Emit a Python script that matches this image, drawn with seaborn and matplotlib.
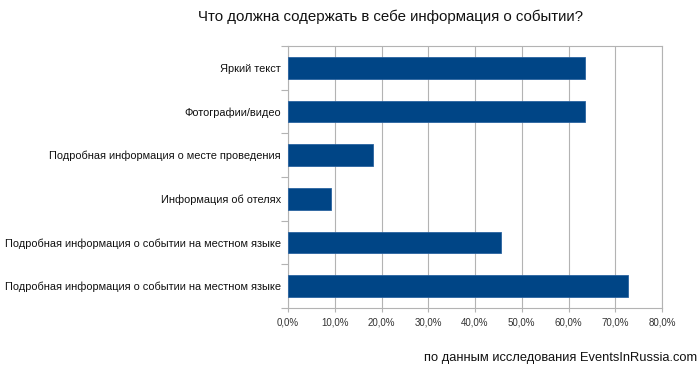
import matplotlib
matplotlib.use("Agg")
import matplotlib.pyplot as plt
import seaborn as sns
import pandas as pd
import numpy as np
from matplotlib.ticker import FuncFormatter, FixedLocator

categories = [
    "Яркий текст",
    "Фотографии/видео",
    "Подробная информация о месте проведения",
    "Информация об отелях",
    "Подробная информация о событии на местном языке",
    "Подробная информация о событии на местном языке",
]
shares = [63.6, 63.6, 18.2, 9.1, 45.5, 72.7]
xticks = [0, 10, 20, 30, 40, 50, 60, 70, 80]

# two categories share the same label, so plot on a row index and relabel
df = pd.DataFrame({"row": [str(i) for i in range(len(categories))], "share": shares})

sns.set_style("white")
plt.rcParams["font.family"] = ["Liberation Sans", "DejaVu Sans"]

fig = plt.figure(figsize=(7, 3.78), dpi=100)
ax = fig.add_axes([288 / 700, 1 - 308 / 378, 374 / 700, 262 / 378])

sns.barplot(data=df, x="share", y="row", orient="h", color="#004586",
            width=0.5, edgecolor="#2a63a0", linewidth=0.6, saturation=1,
            ax=ax, zorder=3)

ax.set_xlim(0, 80)
ax.set_ylim(len(categories) - 0.5, -0.5)
ax.set_yticks(range(len(categories)))
ax.set_yticklabels(categories)
ax.set_xticks(xticks)
ax.xaxis.set_major_formatter(FuncFormatter(lambda v, p: f"{v:.1f}%".replace(".", ",")))
ax.grid(axis="x", color="#b3b3b3", linewidth=0.8, zorder=0)
ax.set_axisbelow(True)
ax.set_xlabel("")
ax.set_ylabel("")

for s in ax.spines.values():
    s.set_color("#b3b3b3")
    s.set_linewidth(0.8)

ax.tick_params(axis="x", labelsize=7, colors="#b3b3b3", labelcolor="#333333",
               length=3, width=0.8, pad=4, bottom=True, direction="out")
ax.tick_params(axis="y", labelsize=7.95, left=False, length=0,
               labelcolor="#111111", pad=5)

# tick marks at category boundaries on the left
ax.yaxis.set_minor_locator(FixedLocator(np.arange(-0.5, len(categories), 1.0)))
ax.tick_params(axis="y", which="minor", left=True, length=5, width=0.8,
               color="#b3b3b3", direction="out")

fig.text(0.5 + 41 / 700, 1 - 17 / 378, "Что должна содержать в себе информация о событии?",
         ha="center", va="center", fontsize=10.8, color="#111111")
fig.text(697 / 700, 1 - 358 / 378, "по данным исследования EventsInRussia.com",
         ha="right", va="center", fontsize=9.3, color="#111111")

fig.savefig("out.png", dpi=100, facecolor="white")
